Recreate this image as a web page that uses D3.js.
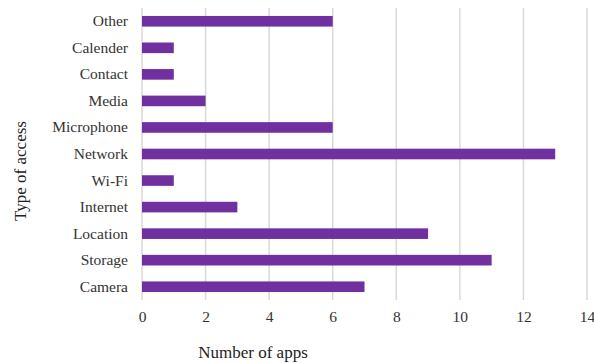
<!DOCTYPE html>
<html>
<head>
<meta charset="utf-8">
<script src="https://cdn.jsdelivr.net/npm/d3@7"></script>
<style>
  html, body { margin: 0; padding: 0; background: #fff; }
  svg { display: block; }
  svg text { font-family: "Liberation Serif", serif; }
</style>
</head>
<body>
<svg id="chart" width="594" height="363"></svg>
<script>
// Permission categories, listed top to bottom
const categories = ["Other", "Calender", "Contact", "Media", "Microphone", "Network",
                    "Wi-Fi", "Internet", "Location", "Storage", "Camera"];
// Number of apps requesting each permission
const counts = [6, 1, 1, 2, 6, 13, 1, 3, 9, 11, 7];
const xTicks = [0, 2, 4, 6, 8, 10, 12, 14];

const svg = d3.select("#chart");
const plotLeft = 142, plotRight = 587, plotTop = 8, plotBottom = 300;

const x = d3.scaleLinear().domain([0, 14]).range([plotLeft, plotRight]);
const y = d3.scaleBand().domain(categories).range([plotTop, plotBottom]).paddingInner(0.6).paddingOuter(0.3);

// vertical gridlines
svg.append("g")
  .selectAll("line")
  .data(xTicks)
  .join("line")
  .attr("x1", d => x(d)).attr("x2", d => x(d))
  .attr("y1", plotTop).attr("y2", plotBottom)
  .attr("stroke", "#d9d9d9")
  .attr("stroke-width", 1.5);

// bars
svg.append("g")
  .selectAll("rect")
  .data(categories.map((c, i) => ({ c, v: counts[i] })))
  .join("rect")
  .attr("x", x(0))
  .attr("y", d => y(d.c))
  .attr("width", d => x(d.v) - x(0))
  .attr("height", y.bandwidth())
  .attr("fill", "#7030a0");

// x axis labels
const xAxis = d3.axisBottom(x).tickValues(xTicks).tickSize(0).tickPadding(0);
const gx = svg.append("g").attr("transform", `translate(0, ${plotBottom + 11})`).call(xAxis);
gx.attr("font-family", null);
gx.select(".domain").remove();
gx.selectAll("text")
  .style("font-family", "'Liberation Serif', serif")
  .style("font-size", "15.5px")
  .attr("fill", "#333");

// y axis labels
const yAxis = d3.axisLeft(y).tickSize(0).tickPadding(14);
const gy = svg.append("g").attr("transform", `translate(${plotLeft}, 0)`).call(yAxis);
gy.attr("font-family", null);
gy.select(".domain").remove();
gy.selectAll("text")
  .style("font-family", "'Liberation Serif', serif")
  .style("font-size", "15.5px")
  .attr("fill", "#333");

// axis titles
svg.append("text")
  .attr("x", 253).attr("y", 358)
  .attr("text-anchor", "middle")
  .style("font-size", "17px")
  .attr("fill", "#222")
  .text("Number of apps");

svg.append("text")
  .attr("transform", "translate(26, 171) rotate(-90)")
  .attr("text-anchor", "middle")
  .style("font-size", "17px")
  .attr("fill", "#222")
  .text("Type of access");
</script>
</body>
</html>
